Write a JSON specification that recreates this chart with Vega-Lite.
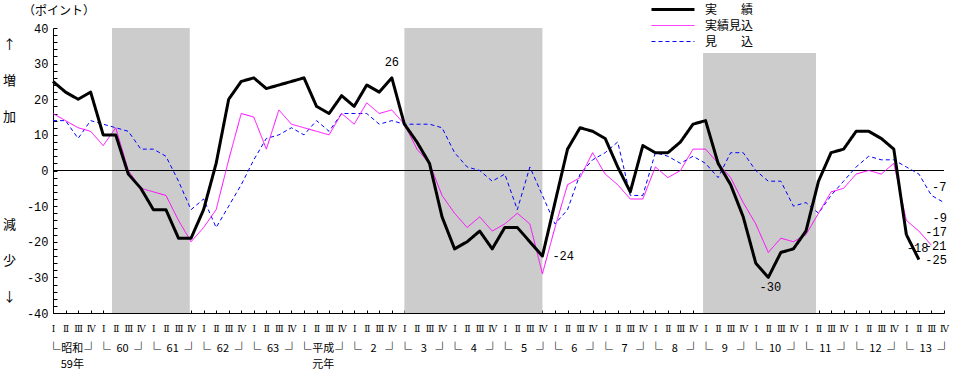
{
  "$schema": "https://vega.github.io/schema/vega-lite/v6.json",
  "width": 891,
  "height": 285,
  "autosize": {"type": "none"},
  "padding": {"left": 53, "top": 28, "right": 9, "bottom": 59},
  "background": "white",
  "config": {
    "view": {"stroke": null},
    "font": "Noto Sans CJK JP",
    "axis": {"labelOverlap": false, "labelFlush": false, "labelBound": false, "grid": false}
  },
  "title": {"text": "（ポイント）", "anchor": "start", "frame": "group", "dx": -30, "dy": 23, "offset": 4, "fontSize": 12, "fontWeight": "normal", "font": "Noto Sans CJK JP", "color": "black"},
  "datasets": {
    "shade": [
      {"a": 4.7, "b": 10.9, "top": 40},
      {"a": 28, "b": 39, "top": 40},
      {"a": 51.8, "b": 60.8, "top": 33}
    ],
    "series": [
      {"i": 0, "見込": 14, "実績見込": 16, "実績": 25},
      {"i": 1, "見込": 14, "実績見込": 14, "実績": 22},
      {"i": 2, "見込": 9, "実績見込": 12, "実績": 20},
      {"i": 3, "見込": 14, "実績見込": 11, "実績": 22},
      {"i": 4, "見込": 13, "実績見込": 7, "実績": 10},
      {"i": 5, "見込": 12, "実績見込": 12, "実績": 10},
      {"i": 6, "見込": 11, "実績見込": 0, "実績": -1},
      {"i": 7, "見込": 6, "実績見込": -5, "実績": -5},
      {"i": 8, "見込": 6, "実績見込": -6, "実績": -11},
      {"i": 9, "見込": 4, "実績見込": -7, "実績": -11},
      {"i": 10, "見込": -3, "実績見込": -14, "実績": -19},
      {"i": 11, "見込": -11, "実績見込": -20, "実績": -19},
      {"i": 12, "見込": -8, "実績見込": -16, "実績": -11},
      {"i": 13, "見込": -16, "実績見込": -11, "実績": 2},
      {"i": 14, "見込": -10, "実績見込": 3, "実績": 20},
      {"i": 15, "見込": -4, "実績見込": 16, "実績": 25},
      {"i": 16, "見込": 3, "実績見込": 15, "実績": 26},
      {"i": 17, "見込": 9, "実績見込": 6, "実績": 23},
      {"i": 18, "見込": 10, "実績見込": 17, "実績": 24},
      {"i": 19, "見込": 12, "実績見込": 13, "実績": 25},
      {"i": 20, "見込": 10, "実績見込": 12, "実績": 26},
      {"i": 21, "見込": 14, "実績見込": 11, "実績": 18},
      {"i": 22, "見込": 11, "実績見込": 10, "実績": 16},
      {"i": 23, "見込": 16, "実績見込": 16, "実績": 21},
      {"i": 24, "見込": 16, "実績見込": 13, "実績": 18},
      {"i": 25, "見込": 16, "実績見込": 19, "実績": 24},
      {"i": 26, "見込": 13, "実績見込": 16, "実績": 22},
      {"i": 27, "見込": 14, "実績見込": 17, "実績": 26},
      {"i": 28, "見込": 13, "実績見込": 13, "実績": 13},
      {"i": 29, "見込": 13, "実績見込": 6, "実績": 8},
      {"i": 30, "見込": 13, "実績見込": 2, "実績": 2},
      {"i": 31, "見込": 12, "実績見込": -7, "実績": -13},
      {"i": 32, "見込": 5, "実績見込": -12, "実績": -22},
      {"i": 33, "見込": 1, "実績見込": -16, "実績": -20},
      {"i": 34, "見込": 0, "実績見込": -13, "実績": -17},
      {"i": 35, "見込": -3, "実績見込": -17, "実績": -22},
      {"i": 36, "見込": -1, "実績見込": -15, "実績": -16},
      {"i": 37, "見込": -11, "実績見込": -12, "実績": -16},
      {"i": 38, "見込": 1, "実績見込": -15, "実績": -20},
      {"i": 39, "見込": -7, "実績見込": -29, "実績": -24},
      {"i": 40, "見込": -15, "実績見込": -16, "実績": -9},
      {"i": 41, "見込": -11, "実績見込": -4, "実績": 6},
      {"i": 42, "見込": -1, "実績見込": -2, "実績": 12},
      {"i": 43, "見込": 3, "実績見込": 5, "実績": 11},
      {"i": 44, "見込": 5, "実績見込": -1, "実績": 9},
      {"i": 45, "見込": 8, "実績見込": -4, "実績": 1},
      {"i": 46, "見込": -7, "実績見込": -8, "実績": -6},
      {"i": 47, "見込": -7, "実績見込": -8, "実績": 7},
      {"i": 48, "見込": 5, "実績見込": 1, "実績": 5},
      {"i": 49, "見込": 4, "実績見込": -2, "実績": 5},
      {"i": 50, "見込": 2, "実績見込": 0, "実績": 8},
      {"i": 51, "見込": 4, "実績見込": 6, "実績": 13},
      {"i": 52, "見込": 2, "実績見込": 6, "実績": 14},
      {"i": 53, "見込": -2, "実績見込": 2, "実績": 2},
      {"i": 54, "見込": 5, "実績見込": -2, "実績": -4},
      {"i": 55, "見込": 5, "実績見込": -9, "実績": -13},
      {"i": 56, "見込": 0, "実績見込": -15, "実績": -26},
      {"i": 57, "見込": -3, "実績見込": -23, "実績": -30},
      {"i": 58, "見込": -3, "実績見込": -19, "実績": -23},
      {"i": 59, "見込": -10, "実績見込": -20, "実績": -22},
      {"i": 60, "見込": -9, "実績見込": -18, "実績": -17},
      {"i": 61, "見込": -12, "実績見込": -12, "実績": -3},
      {"i": 62, "見込": -7, "実績見込": -6, "実績": 5},
      {"i": 63, "見込": -3, "実績見込": -5, "実績": 6},
      {"i": 64, "見込": 1, "実績見込": -1, "実績": 11},
      {"i": 65, "見込": 4, "実績見込": 0, "実績": 11},
      {"i": 66, "見込": 3, "実績見込": -1, "実績": 9},
      {"i": 67, "見込": 3, "実績見込": 2, "実績": 6},
      {"i": 68, "見込": 1, "実績見込": -14, "実績": -18},
      {"i": 69, "見込": -1, "実績見込": -17, "実績": -25},
      {"i": 70, "見込": -7, "実績見込": -21},
      {"i": 71, "見込": -9}
    ],
    "labels": [
      {"i": 27, "v": 26, "t": "26"},
      {"i": 39, "v": -24, "t": "-24"},
      {"i": 57, "v": -30, "t": "-30"},
      {"i": 70, "v": -7, "t": "-7"},
      {"i": 71, "v": -9, "t": "-9"},
      {"i": 69, "v": -17, "t": "-17"},
      {"i": 70, "v": -21, "t": "-21"},
      {"i": 68, "v": -18, "t": "-18"},
      {"i": 69, "v": -25, "t": "-25"}
    ]
  },
  "layer": [
    {
      "data": {"name": "shade"},
      "mark": {"type": "rect", "color": "#cccccc"},
      "encoding": {
        "x": {
          "field": "a", "type": "quantitative",
          "scale": {"domain": [0, 71], "nice": false, "zero": false},
          "axis": {
            "orient": "bottom",
            "values": [0,1.5,3,4,5.5,7,8,9.5,11,12,13.5,15,16,17.5,19,20,21.5,23,24,25.5,27,28,29.5,31,32,33.5,35,36,37.5,39,40,41.5,43,44,45.5,47,48,49.5,51,52,53.5,55,56,57.5,59,60,61.5,63,64,65.5,67,68,69.5,71],
            "labelExpr": "datum.value % 4 == 0 ? '└' : datum.value % 4 == 3 ? '┘' : datum.value == 1.5 ? ['昭和', '59年'] : datum.value == 21.5 ? ['平成', '元年'] : (datum.value < 20 ? '' + (59 + floor(datum.value / 4)) : '' + (floor(datum.value / 4) - 4))",
            "domain": false, "ticks": false, "tickSize": 0, "grid": false,
            "labelPadding": 29, "labelFont": "Noto Sans CJK JP",
            "labelFontSize": {"condition": {"test": "datum.value % 4 == 0 || datum.value % 4 == 3", "value": 14}, "value": 11},
            "labelLineHeight": 16, "labelBaseline": "top", "labelColor": "black",
            "labelOverlap": false, "labelFlush": false, "labelBound": false, "title": null
          }
        },
        "x2": {"field": "b"},
        "y": {
          "field": "top", "type": "quantitative",
          "scale": {"domain": [-40, 40], "nice": false, "zero": false},
          "axis": {
            "orient": "left",
            "values": [-40,-38,-36,-34,-32,-30,-28,-26,-24,-22,-20,-18,-16,-14,-12,-10,-8,-6,-4,-2,0,2,4,6,8,10,12,14,16,18,20,22,24,26,28,30,32,34,36,38,40],
            "labelExpr": "datum.value % 10 == 0 ? '' + datum.value : ''",
            "tickSize": -4, "tickColor": "black", "tickWidth": 1, "domainColor": "black", "grid": false,
            "tickOpacity": 1,
            "labelPadding": 9, "labelFont": "Liberation Mono", "labelFontSize": 12, "labelColor": "black",
            "labelOverlap": false, "labelFlush": false, "labelBound": false,
            "title": ["↑", "増", "加", "⠀", "⠀", "減", "少", "↓"],
            "titleAngle": 0, "titleX": -44, "titleY": 10, "titleAlign": "center", "titleBaseline": "top",
            "titleLineHeight": 36, "titleFont": "Noto Sans CJK JP", "titleFontSize": 13,
            "titleFontWeight": "normal", "titleColor": "black"
          }
        },
        "y2": {"datum": -40}
      }
    },
    {
      "data": {"values": [{}]},
      "mark": {"type": "rule", "color": "black", "strokeWidth": 1},
      "encoding": {"y": {"datum": 0, "type": "quantitative", "scale": {"domain": [-40, 40], "nice": false, "zero": false}, "axis": null}}
    },
    {
      "data": {"name": "series"},
      "transform": [
        {"fold": ["見込", "実績見込", "実績"], "as": ["s", "v"]},
        {"filter": "isValid(datum.v)"}
      ],
      "mark": {"type": "line", "strokeJoin": "round"},
      "encoding": {
        "x": {
          "field": "i", "type": "quantitative",
          "scale": {"domain": [0, 71], "nice": false, "zero": false},
          "axis": {
            "orient": "bottom",
            "values": [0,1,2,3,4,5,6,7,8,9,10,11,12,13,14,15,16,17,18,19,20,21,22,23,24,25,26,27,28,29,30,31,32,33,34,35,36,37,38,39,40,41,42,43,44,45,46,47,48,49,50,51,52,53,54,55,56,57,58,59,60,61,62,63,64,65,66,67,68,69,70,71],
            "labelExpr": "['Ⅰ', 'Ⅱ', 'Ⅲ', 'Ⅳ'][datum.value % 4]",
            "tickSize": -3, "tickColor": "black", "tickWidth": 1, "domainColor": "black", "grid": false,
            "labelPadding": 14, "labelFont": "DejaVu Serif", "labelFontSize": 9,
            "labelBaseline": "top", "labelColor": "black",
            "labelOverlap": false, "labelFlush": false, "labelBound": false, "title": null
          }
        },
        "y": {"field": "v", "type": "quantitative", "scale": {"domain": [-40, 40], "nice": false, "zero": false}, "axis": null},
        "color": {
          "field": "s", "type": "nominal",
          "scale": {"domain": ["実績", "実績見込", "見込"], "range": ["#000000", "#ff00ff", "#0000ff"]},
          "legend": {
            "orient": "none", "legendX": 609.5, "legendY": -29, "title": null,
            "symbolType": "M-2.39,0H2.39", "symbolSize": 324, "labelOffset": 21.5,
            "rowPadding": 0, "padding": 0,
            "labelFont": "Noto Sans CJK JP", "labelFontSize": 12, "labelColor": "black",
            "labelExpr": "datum.label == '実績' ? '実　　績' : datum.label == '見込' ? '見　　込' : datum.label"
          }
        },
        "strokeWidth": {
          "field": "s", "type": "nominal",
          "scale": {"type": "ordinal", "domain": ["実績", "実績見込", "見込"], "range": [3, 1, 1]}
        },
        "strokeDash": {
          "field": "s", "type": "nominal",
          "scale": {"domain": ["実績", "実績見込", "見込"], "range": [[1, 0], [1, 0], [4, 3]]}
        }
      }
    },
    {
      "data": {"name": "labels"},
      "transform": [{"filter": "datum.t == '26'"}],
      "mark": {"type": "text", "font": "Liberation Mono", "fontSize": 12, "align": "center", "baseline": "middle", "dy": -16, "color": "black"},
      "encoding": {"x": {"field": "i", "type": "quantitative", "scale": {"domain": [0, 71], "nice": false, "zero": false}, "axis": null}, "y": {"field": "v", "type": "quantitative", "scale": {"domain": [-40, 40], "nice": false, "zero": false}, "axis": null}, "text": {"field": "t"}}
    },
    {
      "data": {"name": "labels"},
      "transform": [{"filter": "datum.t == '-24'"}],
      "mark": {"type": "text", "font": "Liberation Mono", "fontSize": 12, "align": "left", "baseline": "middle", "dx": 10, "dy": 0, "color": "black"},
      "encoding": {"x": {"field": "i", "type": "quantitative", "scale": {"domain": [0, 71], "nice": false, "zero": false}, "axis": null}, "y": {"field": "v", "type": "quantitative", "scale": {"domain": [-40, 40], "nice": false, "zero": false}, "axis": null}, "text": {"field": "t"}}
    },
    {
      "data": {"name": "labels"},
      "transform": [{"filter": "datum.t == '-30'"}],
      "mark": {"type": "text", "font": "Liberation Mono", "fontSize": 12, "align": "center", "baseline": "middle", "dx": 2, "dy": 10, "color": "black"},
      "encoding": {"x": {"field": "i", "type": "quantitative", "scale": {"domain": [0, 71], "nice": false, "zero": false}, "axis": null}, "y": {"field": "v", "type": "quantitative", "scale": {"domain": [-40, 40], "nice": false, "zero": false}, "axis": null}, "text": {"field": "t"}}
    },
    {
      "data": {"name": "labels"},
      "transform": [{"filter": "datum.t == '-17' || datum.t == '-25'"}],
      "mark": {"type": "text", "font": "Liberation Mono", "fontSize": 12, "align": "right", "baseline": "middle", "dx": 28, "dy": 0.5, "color": "black"},
      "encoding": {"x": {"field": "i", "type": "quantitative", "scale": {"domain": [0, 71], "nice": false, "zero": false}, "axis": null}, "y": {"field": "v", "type": "quantitative", "scale": {"domain": [-40, 40], "nice": false, "zero": false}, "axis": null}, "text": {"field": "t"}}
    },
    {
      "data": {"name": "labels"},
      "transform": [{"filter": "datum.t == '-7'"}],
      "mark": {"type": "text", "font": "Liberation Mono", "fontSize": 12, "align": "right", "baseline": "middle", "dx": 15, "dy": -8, "color": "black"},
      "encoding": {"x": {"field": "i", "type": "quantitative", "scale": {"domain": [0, 71], "nice": false, "zero": false}, "axis": null}, "y": {"field": "v", "type": "quantitative", "scale": {"domain": [-40, 40], "nice": false, "zero": false}, "axis": null}, "text": {"field": "t"}}
    },
    {
      "data": {"name": "labels"},
      "transform": [{"filter": "datum.t == '-21'"}],
      "mark": {"type": "text", "font": "Liberation Mono", "fontSize": 12, "align": "right", "baseline": "middle", "dx": 15, "dy": 1, "color": "black"},
      "encoding": {"x": {"field": "i", "type": "quantitative", "scale": {"domain": [0, 71], "nice": false, "zero": false}, "axis": null}, "y": {"field": "v", "type": "quantitative", "scale": {"domain": [-40, 40], "nice": false, "zero": false}, "axis": null}, "text": {"field": "t"}}
    },
    {
      "data": {"name": "labels"},
      "transform": [{"filter": "datum.t == '-9'"}],
      "mark": {"type": "text", "font": "Liberation Mono", "fontSize": 12, "align": "right", "baseline": "middle", "dx": 3, "dy": 15, "color": "black"},
      "encoding": {"x": {"field": "i", "type": "quantitative", "scale": {"domain": [0, 71], "nice": false, "zero": false}, "axis": null}, "y": {"field": "v", "type": "quantitative", "scale": {"domain": [-40, 40], "nice": false, "zero": false}, "axis": null}, "text": {"field": "t"}}
    },
    {
      "data": {"name": "labels"},
      "transform": [{"filter": "datum.t == '-18'"}],
      "mark": {"type": "text", "font": "Liberation Mono", "fontSize": 12, "align": "right", "baseline": "middle", "dx": 22, "dy": 13, "color": "black"},
      "encoding": {"x": {"field": "i", "type": "quantitative", "scale": {"domain": [0, 71], "nice": false, "zero": false}, "axis": null}, "y": {"field": "v", "type": "quantitative", "scale": {"domain": [-40, 40], "nice": false, "zero": false}, "axis": null}, "text": {"field": "t"}}
    }
  ],
  "resolve": {"scale": {"x": "independent", "y": "independent"}}
}
